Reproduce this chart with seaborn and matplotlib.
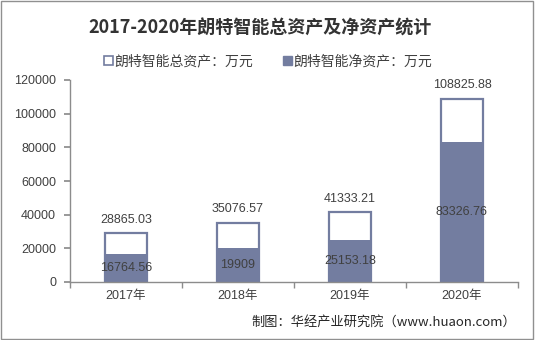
import matplotlib
matplotlib.use("Agg")
import matplotlib.pyplot as plt
import seaborn as sns
import pandas as pd
from matplotlib.patches import Patch, Rectangle

categories = ["2017年", "2018年", "2019年", "2020年"]
total_assets = [28865.03, 35076.57, 41333.21, 108825.88]
net_assets = [16764.56, 19909, 25153.18, 83326.76]
total_labels = ["28865.03", "35076.57", "41333.21", "108825.88"]
net_labels = ["16764.56", "19909", "25153.18", "83326.76"]
yticks = [0, 20000, 40000, 60000, 80000, 100000, 120000]

sns.set_theme(style="white")
plt.rcParams['font.family'] = ['Liberation Sans', 'Noto Sans CJK SC', 'DejaVu Sans']

BAR = "#737da0"
TXT = "#404040"
AXC = "#8c8c8c"

df = pd.DataFrame({"cat": categories, "total": total_assets, "net": net_assets})

fig = plt.figure(figsize=(5.35, 3.4), dpi=100)
ax = fig.add_axes([70/535, 1-282/340, 448/535, 202/340])

sns.barplot(data=df, x="cat", y="total", order=categories, color="white",
            edgecolor=BAR, linewidth=1.6, width=0.38, saturation=1, ax=ax)
sns.barplot(data=df, x="cat", y="net", order=categories, color=BAR,
            edgecolor=BAR, linewidth=0, width=0.40, saturation=1, ax=ax)

ax.set_xlim(-0.5, 3.5)
ax.set_ylim(0, 120000)
ax.set_yticks(yticks)
ax.set_yticklabels([str(v) for v in yticks], fontsize=9, color=TXT)
ax.set_xticks(range(len(categories)))
ax.set_xticklabels(categories, fontsize=9, color=TXT,
                   family=['Liberation Sans', 'Noto Sans CJK SC'])
ax.set_xticks([i - 0.5 for i in range(len(categories) + 1)], minor=True)
ax.tick_params(axis='x', which='major', length=0, pad=6)
ax.tick_params(axis='x', which='minor', length=4, color=AXC, direction='out', bottom=True)
ax.tick_params(axis='y', length=4, color=AXC, direction='out', left=True, pad=6)
ax.set_xlabel("")
ax.set_ylabel("")
for s in ["top", "right"]:
    ax.spines[s].set_visible(False)
for s in ["left", "bottom"]:
    ax.spines[s].set_color(AXC)
    ax.spines[s].set_linewidth(1)

for i, (t, n) in enumerate(zip(total_assets, net_assets)):
    ax.text(i, t + 4500, total_labels[i], ha='center', va='bottom', fontsize=9, color=TXT)
    ax.text(i, n / 2, net_labels[i], ha='center', va='center', fontsize=9, color=TXT)

fig.text(260/535, 1-28/340, "2017-2020年朗特智能总资产及净资产统计", ha='center', va='center',
         fontsize=13, fontweight='bold', color="#333333",
         family=['Noto Sans CJK SC', 'DejaVu Sans'])

handles = [Patch(facecolor='white', edgecolor=BAR, linewidth=1.2, label="朗特智能总资产：万元"),
           Patch(facecolor=BAR, edgecolor=BAR, label="朗特智能净资产：万元")]
leg = fig.legend(handles=handles, loc='center', bbox_to_anchor=(268/535, 1-61/340), ncol=2,
                 frameon=False, handlelength=0.6, handleheight=0.6,
                 handletextpad=0.1, columnspacing=2.2,
                 prop={'family': ['Noto Sans CJK SC', 'DejaVu Sans'], 'size': 10})
for t in leg.get_texts():
    t.set_color(TXT)

fig.text(516/535, 1-322/340, "制图：华经产业研究院（www.huaon.com）", ha='right', va='center',
         fontsize=9.5, color="#262626", family=['Noto Sans CJK SC', 'DejaVu Sans'])

fig.patches.append(Rectangle((0.002, 0.003), 0.995, 0.994, transform=fig.transFigure,
                             fill=False, edgecolor="#909090", linewidth=1))

fig.savefig("out.png", dpi=100)
